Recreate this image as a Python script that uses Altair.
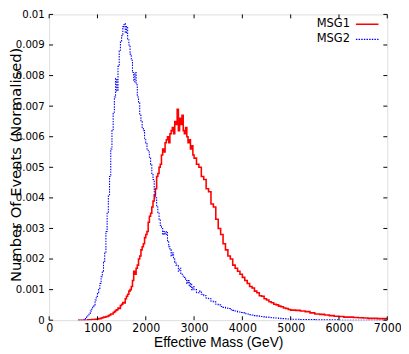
import altair as alt
import pandas as pd

# ---------------- data ----------------
series_names = ["MSG1", "MSG2"]
series_colors = ["#ff0000", "#0000ff"]

# bin positions (GeV)
mass_a = list(range(600, 3001, 25))
mass_b = list(range(3050, 5001, 50))
mass_c = list(range(5100, 7001, 100))

msg2_a = [0, 0, 0, 0, 0,
          0.00002, 0.00005, 0.0001, 0.00018, 0.00022, 0.0003, 0.00036, 0.00044, 0.0005, 0.00066, 0.00078, 0.0009,
          0.00104, 0.0012, 0.00142, 0.0016, 0.0019, 0.0022, 0.0029, 0.0035, 0.0041, 0.0047,
          0.0056, 0.0062, 0.0068, 0.0073, 0.0079, 0.0075, 0.0083, 0.0088, 0.0091, 0.0093,
          0.0096, 0.0097, 0.0094, 0.0096, 0.0092, 0.0090, 0.0087, 0.0085, 0.0081, 0.0078,
          0.0081, 0.0077, 0.0073, 0.0071, 0.0067, 0.0065, 0.0063, 0.0062, 0.0059, 0.0058,
          0.0056, 0.0055, 0.0053, 0.0051, 0.0048, 0.0046, 0.0042, 0.0040, 0.0037, 0.0035,
          0.0033, 0.0031, 0.0030, 0.0028, 0.0029, 0.0028, 0.0029, 0.0026, 0.0024, 0.0023,
          0.0021, 0.0022, 0.0020, 0.0019, 0.0018, 0.0018, 0.0016, 0.0017, 0.0015, 0.0015,
          0.0014, 0.0014, 0.0013, 0.0012, 0.0013, 0.0011, 0.0012, 0.0010, 0.0011, 0.0010]
msg2_b = [0.0009, 0.00095, 0.00085, 0.0008, 0.00072, 0.0007, 0.00062, 0.0006, 0.00052, 0.0005,
          0.00045, 0.00042, 0.0004, 0.00038, 0.00034, 0.00032, 0.0003, 0.00027, 0.00025, 0.00024,
          0.00021, 0.0002, 0.00018, 0.00017, 0.00015, 0.00014, 0.00012, 0.00012, 0.0001, 0.0001,
          0.00009, 0.00008, 0.00007, 0.00007, 0.00006, 0.00005, 0.00005, 0.00004, 0.00004, 0.00003]
msg2_c = [0.00003, 0.00002, 0.00002, 0.00002, 0.00001, 0.00001, 0.00001, 0.00001, 0.00001, 0,
          0, 0, 0, 0, 0, 0, 0, 0, 0, 0]

msg1_a = [0, 0, 0, 0, 0, 0, 0, 0,
          0.00001, 0.00001, 0.00001, 0.00002, 0.00002, 0.00002, 0.00003, 0.00003, 0.00004,
          0.00005, 0.00005, 0.00007, 0.00008, 0.0001, 0.0001, 0.00012, 0.00012, 0.00015, 0.00017,
          0.0002, 0.0002, 0.00025, 0.00028, 0.00032, 0.00034, 0.0004, 0.00038, 0.00048, 0.00052,
          0.00058, 0.00056, 0.0007, 0.00078, 0.00085, 0.00095, 0.001, 0.0011, 0.0013, 0.0016,
          0.0015, 0.0017, 0.0018, 0.0020, 0.0021, 0.0023, 0.0024, 0.0025, 0.0027, 0.0028,
          0.0029, 0.0032, 0.0034, 0.0035, 0.0037, 0.0039, 0.0041, 0.0043, 0.0047, 0.0048,
          0.0050, 0.0051, 0.0054, 0.0056, 0.0055, 0.0058, 0.0059, 0.0060, 0.0058, 0.0061,
          0.0062, 0.0063, 0.0061, 0.0065, 0.0064, 0.0069, 0.0062, 0.0066, 0.0064, 0.0067,
          0.0062, 0.0061, 0.0063, 0.0060, 0.0058, 0.0059, 0.0056, 0.0057, 0.0054, 0.0053]
msg1_b = [0.0051, 0.0050, 0.0047, 0.0046, 0.0043, 0.0042, 0.0038, 0.0037, 0.0033, 0.0030,
          0.0028, 0.0025, 0.0023, 0.0021, 0.0020, 0.0018, 0.0017, 0.0016, 0.0015, 0.0014,
          0.0013, 0.0012, 0.0011, 0.00105, 0.00095, 0.0009, 0.0008, 0.00078, 0.0007, 0.00066,
          0.0006, 0.00057, 0.00052, 0.0005, 0.00046, 0.00044, 0.0004, 0.00038, 0.00035, 0.00033]
msg1_c = [0.00032, 0.0003, 0.00028, 0.00024, 0.0002, 0.00019, 0.00017, 0.00015, 0.00013, 0.00012,
          0.0001, 0.0001, 0.00009, 0.00008, 0.00007, 0.00006, 0.00006, 0.00005, 0.00005, 0.00004]

x_tick_values = [0, 1000, 2000, 3000, 4000, 5000, 6000, 7000]
y_tick_values = [0, 0.001, 0.002, 0.003, 0.004, 0.005, 0.006, 0.007, 0.008, 0.009, 0.01]

x_title = "Effective Mass (GeV)"
y_title = "Number Of Events (Normalised)"

# ---------------- build table ----------------
mass = mass_a + mass_b + mass_c
msg1 = msg1_a + msg1_b + msg1_c
msg2 = msg2_a + msg2_b + msg2_c
assert len(mass) == len(msg1) == len(msg2)

rows = []
for name, vals in zip(series_names, [msg1, msg2]):
    for m, v in zip(mass, vals):
        rows.append({"mass": m, "value": v, "series": name})
df = pd.DataFrame(rows)

W, H = 345, 312
LABEL_FONT = "Liberation Sans Narrow, DejaVu Sans Condensed, Liberation Sans"

xscale = alt.Scale(domain=[0, 7000], nice=False, zero=False)
yscale = alt.Scale(domain=[0, 0.01], nice=False)

x_axis = alt.Axis(values=x_tick_values, ticks=False, domain=False, grid=False,
                  format="d",
                  labelFont=LABEL_FONT, labelFontSize=12.5, labelPadding=2,
                  labelFlush=False, labelOverlap=False, labelColor="black",
                  title=x_title, titleFont="Liberation Sans", titleFontSize=14,
                  titleFontWeight="normal", titleColor="black",
                  titleX=W / 2, titleY=27, titleBaseline="alphabetic")
y_axis = alt.Axis(values=y_tick_values, ticks=False, domain=False, grid=False,
                  format=".3~f", labelFont=LABEL_FONT, labelFontSize=11.5,
                  labelPadding=5, labelFlush=False, labelOverlap=False,
                  labelColor="black",
                  title=y_title, titleFont="DejaVu Sans", titleFontSize=15,
                  titleFontWeight="normal", titleColor="black",
                  titleX=-29, titleY=153, titleAngle=270,
                  titleBaseline="alphabetic", titleAlign="center")

lines = alt.Chart(df).mark_line(interpolate="step-after", clip=True).encode(
    x=alt.X("mass:Q", scale=xscale, axis=x_axis, title=x_title),
    y=alt.Y("value:Q", scale=yscale, axis=y_axis, title=y_title),
    color=alt.Color("series:N", scale=alt.Scale(domain=series_names, range=series_colors), legend=None),
    strokeDash=alt.StrokeDash("series:N", scale=alt.Scale(domain=series_names, range=[[1, 0], [1.5, 1.2]]), legend=None),
    strokeWidth=alt.StrokeWidth("series:N", scale=alt.Scale(domain=series_names, range=[1.6, 1.1]), legend=None),
    order=alt.Order("mass:Q"),
)

xt = pd.DataFrame({"t": x_tick_values})
yt = pd.DataFrame({"t": y_tick_values})
TL = 4
ticks_bottom = alt.Chart(xt).mark_rule(color="black", strokeWidth=1).encode(
    x=alt.X("t:Q", scale=xscale, axis=x_axis, title=x_title), y=alt.value(H), y2=alt.value(H - TL))
ticks_top = alt.Chart(xt).mark_rule(color="black", strokeWidth=1).encode(
    x=alt.X("t:Q", scale=xscale, axis=x_axis, title=x_title), y=alt.value(0), y2=alt.value(TL))
ticks_left = alt.Chart(yt).mark_rule(color="black", strokeWidth=1).encode(
    y=alt.Y("t:Q", scale=yscale, axis=y_axis, title=y_title), x=alt.value(0), x2=alt.value(TL))
ticks_right = alt.Chart(yt).mark_rule(color="black", strokeWidth=1).encode(
    y=alt.Y("t:Q", scale=yscale, axis=y_axis, title=y_title), x=alt.value(W), x2=alt.value(W - TL))

legend_layers = []
for i, (name, col) in enumerate(zip(series_names, series_colors)):
    ly = 9 + i * 15.5
    legend_layers.append(
        alt.Chart(pd.DataFrame({"label": [name]})).mark_text(
            align="right", baseline="middle", font=LABEL_FONT, fontSize=13, color="black"
        ).encode(text="label:N", x=alt.value(307), y=alt.value(ly))
    )
    legend_layers.append(
        alt.Chart(pd.DataFrame({"label": [name]})).mark_rule(
            color=col, strokeWidth=1.5 if i == 0 else 1.1,
            strokeDash=[1, 0] if i == 0 else [1.5, 1.2]
        ).encode(x=alt.value(313), x2=alt.value(336), y=alt.value(ly + 1))
    )

chart = alt.layer(
    lines, ticks_bottom, ticks_top, ticks_left, ticks_right, *legend_layers
).resolve_scale(x="shared", y="shared").properties(
    width=W, height=H,
    autosize=alt.AutoSizeParams(type="none"),
    padding={"left": 42, "top": 3, "right": 14, "bottom": 33},
).configure_view(
    stroke="black", strokeWidth=1
).configure(background="white")

chart.save("out.html", embed_options={"renderer": "svg", "actions": False})
